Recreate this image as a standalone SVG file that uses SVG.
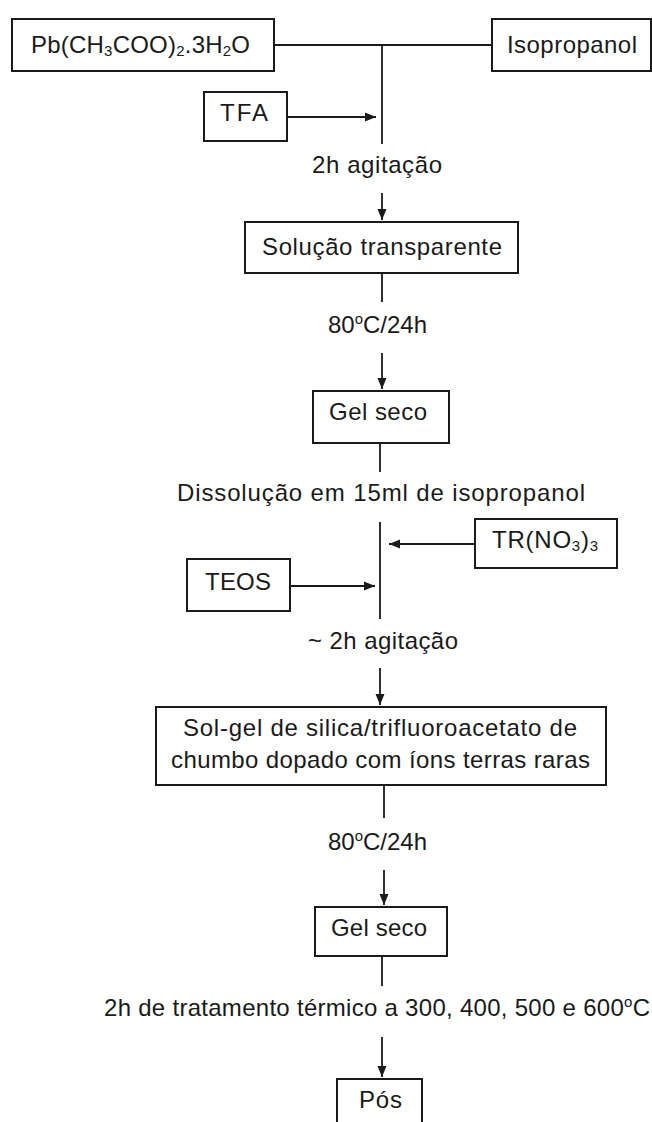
<svg xmlns="http://www.w3.org/2000/svg" width="652" height="1122" viewBox="0 0 652 1122">
<style>
.box{fill:#fff;stroke:#1a1a1a;stroke-width:2}
.t{font-family:"Liberation Sans",Arial,sans-serif;font-size:24px;fill:#1a1a1a}
.ln{stroke:#1a1a1a;stroke-width:1.8;fill:none}
.ar{stroke:#1a1a1a;stroke-width:1.8;fill:none;marker-end:url(#ah)}
</style>
<defs>
<marker id="ah" markerUnits="userSpaceOnUse" markerWidth="12" markerHeight="12" viewBox="0 0 12 12" refX="11" refY="6" orient="auto">
<path d="M0,1.5 L11,6 L0,10.5 Z" fill="#1a1a1a"/>
</marker>
</defs>
<rect width="652" height="1122" fill="#fff"/>
<g id="connectors">
<line class="ln" x1="274" y1="45" x2="492" y2="45"/>
<line class="ln" x1="382" y1="45" x2="382" y2="144"/>
<line class="ar" x1="287" y1="117" x2="376" y2="117"/>
<line class="ar" x1="382" y1="193" x2="382" y2="220"/>
<line class="ln" x1="382" y1="273" x2="382" y2="302"/>
<line class="ar" x1="382" y1="353" x2="382" y2="389"/>
<line class="ln" x1="380" y1="443" x2="380" y2="472"/>
<line class="ln" x1="380" y1="522" x2="380" y2="619"/>
<line class="ar" x1="475" y1="544" x2="389" y2="544"/>
<line class="ar" x1="290" y1="586" x2="375" y2="586"/>
<line class="ar" x1="380" y1="668" x2="380" y2="705"/>
<line class="ln" x1="384" y1="785" x2="384" y2="818"/>
<line class="ar" x1="384" y1="870" x2="384" y2="905"/>
<line class="ln" x1="382" y1="956" x2="382" y2="986"/>
<line class="ar" x1="382" y1="1037" x2="382" y2="1077"/>
</g>
<g id="labels">
<text class="t" x="312" y="173" textLength="130">2h agitação</text>
<text class="t" x="328" y="333" textLength="99">80<tspan font-size="15" dy="-9">o</tspan><tspan dy="9">C/24h</tspan></text>
<text class="t" x="177" y="501" textLength="408">Dissolução em 15ml de isopropanol</text>
<text class="t" x="308" y="649" textLength="150">~ 2h agitação</text>
<text class="t" x="328" y="850" textLength="99">80<tspan font-size="15" dy="-9">o</tspan><tspan dy="9">C/24h</tspan></text>
<text class="t" x="104" y="1016" textLength="546">2h de tratamento térmico a 300, 400, 500 e 600<tspan font-size="15" dy="-9">o</tspan><tspan dy="9">C</tspan></text>
</g>
<g id="n-pb">
<rect class="box" x="12" y="19" width="262" height="52"/>
<text class="t" x="31" y="53" textLength="219">Pb(CH<tspan font-size="15" dy="3">3</tspan><tspan dy="-3">COO)</tspan><tspan font-size="15" dy="3">2</tspan><tspan dy="-3">.3H</tspan><tspan font-size="15" dy="3">2</tspan><tspan dy="-3">O</tspan></text>
</g>
<g id="n-iso">
<rect class="box" x="492" y="19" width="159" height="52"/>
<text class="t" x="507" y="53" textLength="130">Isopropanol</text>
</g>
<g id="n-tfa">
<rect class="box" x="204" y="92" width="83" height="49"/>
<text class="t" x="220" y="121" textLength="48">TFA</text>
</g>
<g id="n-sol">
<rect class="box" x="245" y="222" width="273" height="51"/>
<text class="t" x="262" y="255" textLength="240">Solução transparente</text>
</g>
<g id="n-gel1">
<rect class="box" x="313" y="391" width="136" height="52"/>
<text class="t" x="329" y="420" textLength="98">Gel seco</text>
</g>
<g id="n-tr">
<rect class="box" x="475" y="519" width="142" height="49"/>
<text class="t" x="492" y="548" textLength="106">TR(NO<tspan font-size="15" dy="3">3</tspan><tspan dy="-3">)</tspan><tspan font-size="15" dy="3">3</tspan></text>
</g>
<g id="n-teos">
<rect class="box" x="187" y="559" width="103" height="52"/>
<text class="t" x="205" y="590" textLength="66">TEOS</text>
</g>
<g id="n-solgel">
<rect class="box" x="156" y="707" width="450" height="78"/>
<text class="t" x="183" y="736" textLength="394">Sol-gel de silica/trifluoroacetato de</text>
<text class="t" x="171" y="768" textLength="419">chumbo dopado com íons terras raras</text>
</g>
<g id="n-gel2">
<rect class="box" x="315" y="907" width="132" height="49"/>
<text class="t" x="331" y="936" textLength="96">Gel seco</text>
</g>
<g id="n-pos">
<rect class="box" x="337" y="1079" width="85" height="60"/>
<text class="t" x="359" y="1108" textLength="43">Pós</text>
</g>
</svg>
